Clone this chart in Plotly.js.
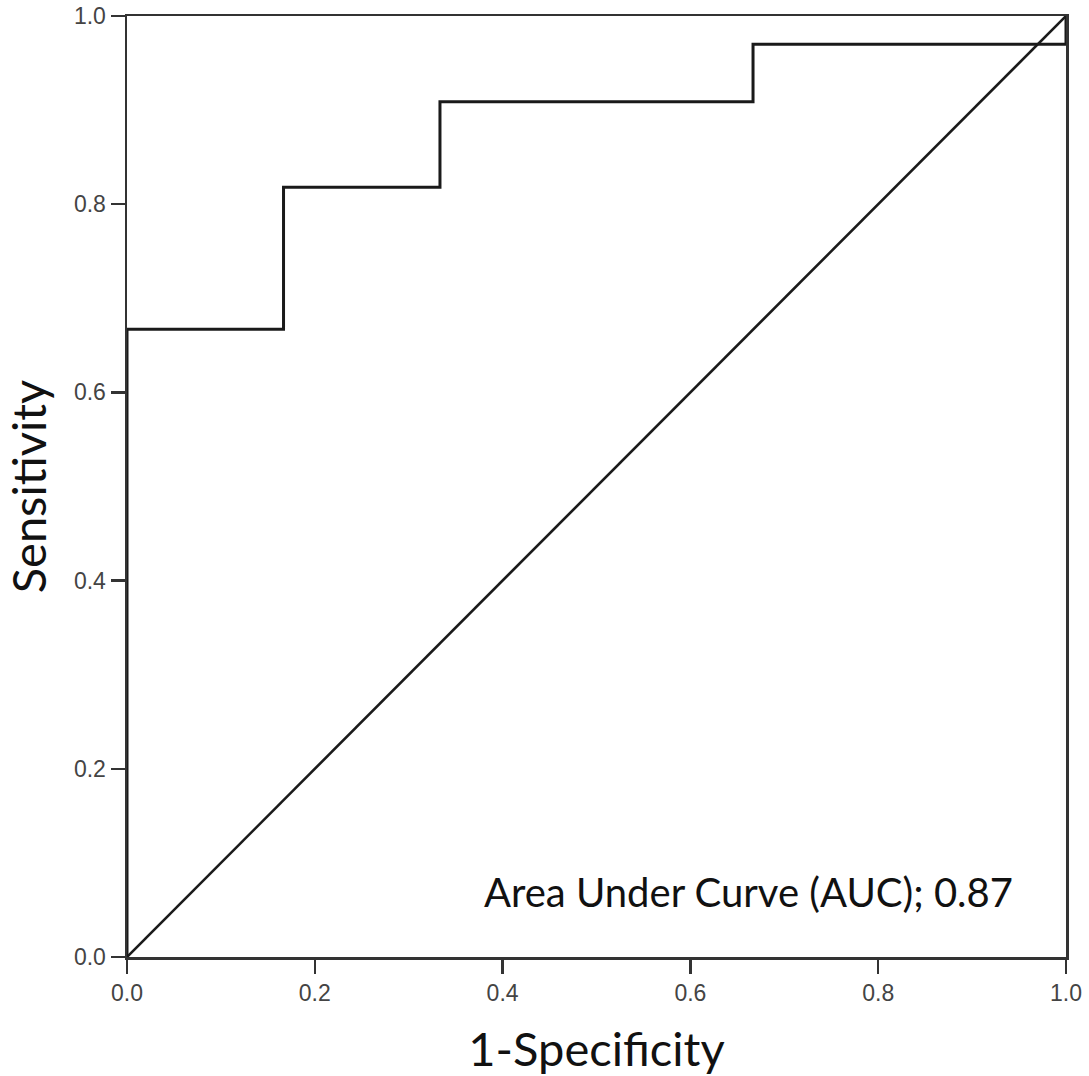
<!DOCTYPE html>
<html>
<head>
<meta charset="utf-8">
<script src="https://cdn.plot.ly/plotly-3.0.1.min.js"></script>
<style>html,body{margin:0;padding:0;background:#fff;}#chart{width:1089px;height:1076px;}</style>
</head>
<body>
<div id="chart"></div>
<script>
// ROC curve data (1-Specificity vs Sensitivity), step curve
const fpr = [0, 0, 0.1667, 0.3333, 0.6667, 1.0];
const tpr = [0, 0.667, 0.818, 0.909, 0.970, 1.0];
// Reference diagonal
const refX = [0, 1];
const refY = [0, 1];
const tickVals = [0, 0.2, 0.4, 0.6, 0.8, 1.0];
const tickText = ["0.0", "0.2", "0.4", "0.6", "0.8", "1.0"];
const aucLabel = "Area Under Curve (AUC); 0.87";

const lineColor = "#1a1a1a";
const traces = [
  {x: fpr, y: tpr, type: "scatter", mode: "lines", line: {shape: "hv", color: lineColor, width: 3}, hoverinfo: "x+y"},
  {x: refX, y: refY, type: "scatter", mode: "lines", line: {color: lineColor, width: 2.6}, hoverinfo: "skip"}
];

const axisCommon = {
  range: [0, 1], tickvals: tickVals, ticktext: tickText,
  ticks: "outside", ticklen: 14, tickwidth: 2.5, tickcolor: "#333",
  showline: true, linecolor: "#333", linewidth: 2.5, mirror: true,
  showgrid: false, zeroline: false,
  tickfont: {family: "Liberation Sans, Arial, sans-serif", size: 23, color: "#444"}
};

const titleFont = {family: "Lato, Carlito, sans-serif", size: 47, color: "#111"};

const layout = {
  width: 1089, height: 1076,
  margin: {l: 127, r: 23, t: 16, b: 119},
  paper_bgcolor: "#fff", plot_bgcolor: "#fff",
  showlegend: false,
  xaxis: Object.assign({}, axisCommon, {
    title: {text: "1-Specificity", font: titleFont, standoff: 28}
  }),
  yaxis: Object.assign({}, axisCommon, {
    title: {text: "Sensitivity", font: titleFont, standoff: 36}
  }),
  annotations: [{
    x: 0.946, y: 0.069, xref: "x", yref: "y", xanchor: "right", yanchor: "middle",
    text: aucLabel, showarrow: false,
    font: {family: "Lato, Carlito, sans-serif", size: 40, color: "#111"}
  }]
};

Plotly.newPlot("chart", traces, layout, {displayModeBar: false, staticPlot: true});
</script>
</body>
</html>
